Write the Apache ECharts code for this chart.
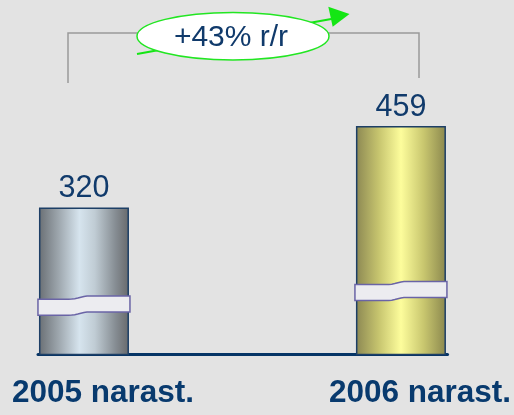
<!DOCTYPE html>
<html><head><meta charset="utf-8">
<script src="https://cdn.jsdelivr.net/npm/echarts@6/dist/echarts.min.js"></script>
<style>html,body{margin:0;padding:0;background:#e3e3e3}#c{width:514px;height:415px}</style>
</head><body><div id="c"></div>
<script>
var categories = ['2005 narast.', '2006 narast.'];
var values = [320, 459];
var growthLabel = '+43% r/r';

var FONT = '"Liberation Sans", Arial, sans-serif';
var NAVY = '#103a6b';
var yMin = 69, yMax = 459;
var breakAt = [0.333, 0.278];
var gradients = [
  [[0,'#6a6f74'],[0.22,'#9ea7ae'],[0.45,'#d6e4ee'],[0.62,'#c0ccd4'],[0.85,'#868d93'],[1,'#67696c']],
  [[0,'#8c8853'],[0.25,'#c6c46e'],[0.5,'#fdfd9c'],[0.75,'#c9c76f'],[1,'#8b884e']]
];
function grad(stops){
  return new echarts.graphic.LinearGradient(0,0,1,0, stops.map(function(s){return {offset:s[0], color:s[1]};}));
}
var chart = echarts.init(document.getElementById('c'), null, {renderer:'canvas'});
var barData = values.map(function(v,i){
  return {value:[i,v], itemStyle:{color:grad(gradients[i])}};
});
function smooth(t){ t=Math.max(0,Math.min(1,t)); return t*t*(3-2*t); }
chart.setOption({
  backgroundColor:'#e3e3e3',
  animation:false,
  grid:{left:38, right:66, top:126, bottom:60.5},
  xAxis:{
    type:'value', min:-0.145, max:1.147,
    splitLine:{show:false}, axisTick:{show:false},
    axisLine:{show:true, onZero:false, lineStyle:{color:'#063566', width:3}},
    axisLabel:{
      customValues:[0,1], margin:23,
      formatter:function(v){ return categories[Math.round(v)]; },
      fontFamily:FONT, fontSize:31.5, fontWeight:'bold', color:'#083a6e',
      padding:[0,0,0,38]
    }
  },
  yAxis:{type:'value', min:yMin, max:yMax, show:false, splitLine:{show:false}},
  series:[
    {
      type:'bar', barWidth:90, data:barData,
      itemStyle:{borderColor:'#1d3f66', borderWidth:1.5},
      label:{show:true, position:'top', distance:3,
        formatter:function(p){return p.value[1];},
        fontFamily:FONT, fontSize:30.5, color:NAVY}
    },
    {
      type:'custom', z:5,
      data:values.map(function(v,i){return [i,v];}),
      renderItem:function(params, api){
        var i = params.dataIndex;
        var top = api.coord([api.value(0), api.value(1)]);
        var base = api.coord([api.value(0), yMin]);
        var cx = top[0];
        var h = base[1]-top[1];
        var yc = base[1] - h*breakAt[i];
        var hw = 46, half = 8;
        var pts = [], n = 30, k;
        function d(x){ return 1.6 - 3.2*smooth((x+13)/18); }
        for(k=0;k<=n;k++){ var x=-hw+2*hw*k/n; pts.push([cx+x, yc-half+d(x)]); }
        for(k=n;k>=0;k--){ var x2=-hw+2*hw*k/n; pts.push([cx+x2, yc+half+d(x2)]); }
        return {type:'polygon', shape:{points:pts},
          style:{fill:'#ececf0', stroke:'#6a64a6', lineWidth:1.5}};
      }
    }
  ],
  graphic:[
    {type:'polyline', z:10, shape:{points:[[68,83],[68,33],[419,33],[419,78]]},
      style:{stroke:'#9a9a9a', lineWidth:1.5, fill:null}},
    {type:'line', z:11, shape:{x1:137,y1:54,x2:334,y2:18.5},
      style:{stroke:'#14e614', lineWidth:2.2}},
    {type:'polygon', z:12, shape:{points:[[328.3,6.7],[349.5,14],[332.7,26.7]]},
      style:{fill:'#14e614'}},
    {type:'ellipse', z:13, shape:{cx:233, cy:36.2, rx:96, ry:23.8},
      style:{fill:'#ffffff', stroke:'#22e622', lineWidth:1.5}},
    {type:'text', z:14, x:231, y:38, style:{text:growthLabel, fontFamily:FONT, fontSize:30,
      fill:NAVY, align:'center', verticalAlign:'middle'}}
  ]
});
</script></body></html>
